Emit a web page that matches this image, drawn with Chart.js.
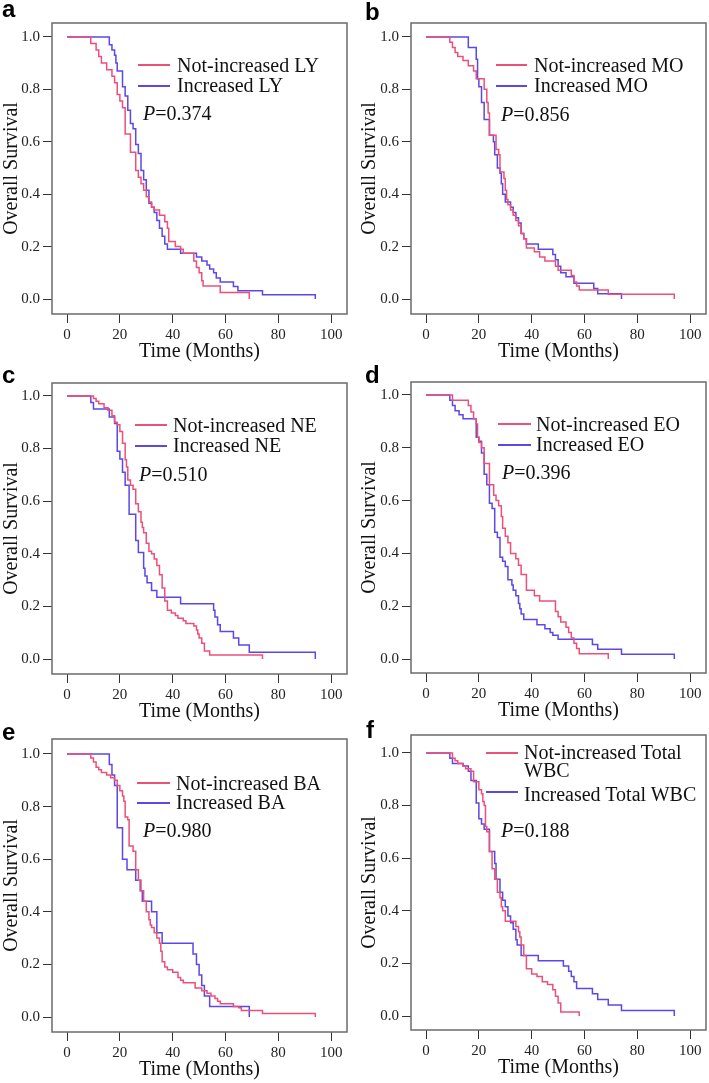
<!DOCTYPE html>
<html><head><meta charset="utf-8">
<script src="https://cdn.jsdelivr.net/npm/chart.js@4/dist/chart.umd.min.js"></script>
<style>
html,body{margin:0;padding:0;background:#fff}
body{width:709px;height:1083px;position:relative;overflow:hidden;font-family:'Liberation Serif','Times New Roman',serif}
.box{position:absolute}
.lbl{position:absolute;font-weight:bold;font-size:24px;line-height:24px;font-family:'Liberation Sans',Arial,sans-serif;color:#000}
.txt{position:absolute;font-size:20px;line-height:24px;white-space:nowrap;color:#111;font-family:'Liberation Serif','Times New Roman',serif}
.ln{position:absolute;height:2px}
</style></head><body>
<script>
// ---------- data ----------
const xTicks = [0, 20, 40, 60, 80, 100];
const yTicks = [0, 0.2, 0.4, 0.6, 0.8, 1.0];
const xTitle = 'Time (Months)';
const yTitle = 'Overall Survival';
const panelLetters = ['a', 'b', 'c', 'd', 'e', 'f'];
const legendNot = ['Not-increased LY', 'Not-increased MO', 'Not-increased NE', 'Not-increased EO', 'Not-increased BA', 'Not-increased Total'];
const legendNotExtra = ['', '', '', '', '', 'WBC'];
const legendInc = ['Increased LY', 'Increased MO', 'Increased NE', 'Increased EO', 'Increased BA', 'Increased Total WBC'];
const pValues = ['0.374', '0.856', '0.510', '0.396', '0.980', '0.188'];

// a: LY
const lyNotTime = [0, 9, 11, 12, 13, 15, 17, 18, 19, 20, 21, 22, 24, 26, 27, 28, 29, 30, 31, 32, 33, 35, 37, 38, 38.5, 41, 43, 44, 48, 49, 50, 51, 51.5, 58, 69];
const lyNotSurv = [1, 0.975, 0.95, 0.925, 0.9, 0.875, 0.85, 0.825, 0.78, 0.755, 0.73, 0.63, 0.56, 0.49, 0.465, 0.44, 0.415, 0.39, 0.37, 0.35, 0.34, 0.32, 0.295, 0.27, 0.22, 0.2, 0.19, 0.175, 0.145, 0.12, 0.1, 0.07, 0.05, 0.025, 0];
const lyIncTime = [0, 16, 17, 18, 18.5, 19, 21, 22, 23, 24, 25, 26, 27, 28, 29, 30, 31, 32, 33, 34, 35, 36, 37, 38, 43, 49, 51, 53, 54, 55.5, 56.5, 58, 63, 64.7, 74, 94];
const lyIncSurv = [1, 0.97, 0.95, 0.93, 0.9, 0.87, 0.81, 0.775, 0.72, 0.67, 0.65, 0.59, 0.555, 0.49, 0.455, 0.415, 0.365, 0.35, 0.33, 0.3, 0.27, 0.24, 0.21, 0.19, 0.175, 0.16, 0.145, 0.13, 0.115, 0.1, 0.08, 0.065, 0.048, 0.032, 0.016, 0];

// b: MO
const moNotTime = [0, 9, 10, 11, 12, 14, 16, 18, 19, 22, 23, 23.5, 24, 26.5, 27.5, 28, 29.5, 30, 30.5, 31, 32, 33, 34, 35, 36, 37, 38, 41, 43, 45, 49, 50, 55, 56, 57, 58, 69, 94];
const moNotSurv = [1, 0.98, 0.96, 0.94, 0.925, 0.91, 0.89, 0.87, 0.84, 0.8, 0.75, 0.71, 0.625, 0.57, 0.55, 0.485, 0.46, 0.415, 0.38, 0.36, 0.34, 0.32, 0.3, 0.28, 0.25, 0.23, 0.195, 0.18, 0.16, 0.145, 0.125, 0.11, 0.09, 0.065, 0.05, 0.035, 0.018, 0];
const moIncTime = [0, 16, 19, 19.5, 20, 21, 22, 24, 25.5, 26, 27, 28, 28.5, 29, 30, 32, 33, 34, 35, 36, 37, 38, 42.5, 48, 49, 50, 51, 53, 56, 63.5, 65, 74];
const moIncSurv = [1, 0.96, 0.915, 0.84, 0.81, 0.75, 0.685, 0.625, 0.6, 0.55, 0.5, 0.48, 0.44, 0.4, 0.37, 0.35, 0.33, 0.31, 0.29, 0.25, 0.23, 0.21, 0.19, 0.17, 0.15, 0.125, 0.1, 0.085, 0.06, 0.04, 0.02, 0];

// c: NE
const neNotTime = [0, 10, 11, 12, 14, 15.5, 17, 18, 19, 20, 21, 22, 22.5, 23, 24, 25, 26, 27, 28, 28.5, 29, 30, 31, 32, 33, 34, 35, 36, 37, 38, 39.5, 41, 42, 44, 45, 48, 49, 49.5, 50, 51, 52, 54, 74];
const neNotSurv = [1, 0.99, 0.98, 0.97, 0.955, 0.945, 0.925, 0.9, 0.89, 0.865, 0.82, 0.757, 0.73, 0.68, 0.66, 0.645, 0.59, 0.56, 0.52, 0.5, 0.48, 0.44, 0.41, 0.4, 0.38, 0.355, 0.32, 0.27, 0.22, 0.185, 0.175, 0.165, 0.155, 0.145, 0.135, 0.125, 0.11, 0.095, 0.08, 0.06, 0.03, 0.015, 0];
const neIncTime = [0, 9, 10, 16, 18, 19, 20, 21, 22, 23.5, 26, 27, 29, 29.5, 30.3, 32, 34, 43, 55.5, 56, 57, 58, 63, 65, 69, 94];
const neIncSurv = [1, 0.975, 0.95, 0.92, 0.895, 0.79, 0.76, 0.71, 0.66, 0.55, 0.45, 0.405, 0.345, 0.315, 0.29, 0.26, 0.235, 0.21, 0.185, 0.16, 0.13, 0.105, 0.08, 0.053, 0.026, 0];

// d: EO
const eoNotTime = [0, 10, 16, 17, 18, 19, 19.5, 20, 21, 22, 24, 25.6, 26.5, 27.5, 28.5, 29, 30, 31, 32, 34, 35, 36, 38, 41, 43, 49, 50, 51, 53, 54, 55, 56, 57, 58, 69];
const eoNotSurv = [1, 0.98, 0.96, 0.935, 0.91, 0.89, 0.84, 0.82, 0.8, 0.74, 0.66, 0.62, 0.6, 0.58, 0.54, 0.495, 0.465, 0.44, 0.4, 0.38, 0.355, 0.32, 0.26, 0.24, 0.22, 0.18, 0.16, 0.14, 0.12, 0.1, 0.08, 0.06, 0.04, 0.02, 0];
const eoIncTime = [0, 9, 10, 11, 12.5, 14, 19, 20, 21, 22, 23, 24, 25, 26, 27, 28, 29, 30, 31, 32.5, 33, 34, 35, 35.5, 36, 37, 42, 45, 47, 48, 50, 63, 65, 74, 94];
const eoIncSurv = [1, 0.98, 0.96, 0.94, 0.925, 0.91, 0.84, 0.825, 0.78, 0.7, 0.66, 0.59, 0.57, 0.48, 0.46, 0.385, 0.37, 0.35, 0.3, 0.28, 0.26, 0.24, 0.21, 0.19, 0.17, 0.15, 0.13, 0.115, 0.1, 0.09, 0.075, 0.055, 0.037, 0.018, 0];

// e: BA
const baNotTime = [0, 9, 10, 11, 12, 13, 15, 16.5, 18, 19, 20, 21, 21.5, 22, 23, 23.5, 25, 26, 27, 28, 29, 30, 31, 31.5, 32, 33, 34, 35, 35.5, 36, 37, 38, 40, 42, 43, 44, 48.5, 51, 53, 54.5, 56, 57, 58, 63, 65, 66, 74, 94];
const baNotSurv = [1, 0.985, 0.97, 0.95, 0.94, 0.93, 0.92, 0.91, 0.9, 0.88, 0.86, 0.84, 0.82, 0.76, 0.75, 0.65, 0.63, 0.56, 0.52, 0.48, 0.44, 0.4, 0.37, 0.35, 0.34, 0.32, 0.3, 0.28, 0.25, 0.21, 0.19, 0.18, 0.17, 0.15, 0.14, 0.13, 0.11, 0.1, 0.09, 0.08, 0.07, 0.06, 0.05, 0.04, 0.035, 0.025, 0.013, 0];
const baIncTime = [0, 16, 17, 18, 19, 21, 22.7, 26, 27.7, 28.5, 32, 34, 36, 47.7, 49, 50, 51, 52, 54, 69];
const baIncSurv = [1, 0.96, 0.92, 0.88, 0.72, 0.6, 0.56, 0.52, 0.48, 0.44, 0.4, 0.32, 0.28, 0.24, 0.2, 0.16, 0.12, 0.08, 0.04, 0];

// f: Total WBC
const wbcNotTime = [0, 10, 11, 12, 14, 15, 17, 18, 20, 21, 21.5, 22, 22.5, 23, 24, 25, 26, 27, 28, 28.5, 29, 30, 34, 35, 35.5, 36, 37, 38, 40, 42, 44, 46, 48, 49, 50, 51, 58];
const wbcNotSurv = [1, 0.98, 0.97, 0.96, 0.95, 0.94, 0.93, 0.89, 0.86, 0.845, 0.815, 0.8, 0.72, 0.7, 0.625, 0.56, 0.52, 0.47, 0.45, 0.415, 0.4, 0.36, 0.34, 0.32, 0.3, 0.27, 0.23, 0.18, 0.16, 0.15, 0.13, 0.12, 0.1, 0.075, 0.05, 0.015, 0];
const wbcIncTime = [0, 9, 10, 14, 16, 17, 19, 20, 21, 22, 24, 26, 26.5, 28, 29, 30, 31, 32, 33, 34, 34.5, 36, 42.5, 52, 54, 55, 56, 57, 63, 65, 69, 74, 94];
const wbcIncSurv = [1, 0.98, 0.96, 0.95, 0.93, 0.895, 0.81, 0.75, 0.73, 0.71, 0.625, 0.58, 0.52, 0.47, 0.44, 0.415, 0.38, 0.355, 0.33, 0.29, 0.27, 0.23, 0.21, 0.19, 0.17, 0.15, 0.13, 0.105, 0.085, 0.063, 0.042, 0.021, 0];

const seriesNot = [[lyNotTime, lyNotSurv], [moNotTime, moNotSurv], [neNotTime, neNotSurv], [eoNotTime, eoNotSurv], [baNotTime, baNotSurv], [wbcNotTime, wbcNotSurv]];
const seriesInc = [[lyIncTime, lyIncSurv], [moIncTime, moIncSurv], [neIncTime, neIncSurv], [eoIncTime, eoIncSurv], [baIncTime, baIncSurv], [wbcIncTime, wbcIncSurv]];

// ---------- layout & style ----------
const PINK = '#ec5079';
const BLUE = '#5b48e6';
const SERIF = "'Liberation Serif','Times New Roman',serif";
const layout = [
  {left:0,   top:0,   w:354, h:364, pt:23, pr:7, pl:0, yw:52, ymin:-0.057, ymax:1.053, letter:[2,-3],
   lx:[138,170], ly:[65,86], tx:177, ty:[64.5,85], px:143, py:113},
  {left:354, top:0,   w:355, h:364, pt:23, pr:3, pl:4, yw:53, ymin:-0.057, ymax:1.053, letter:[365,0],
   lx:[496,527], ly:[65,86], tx:534, ty:[64.5,85], px:501, py:114},
  {left:0,   top:360, w:354, h:364, pt:23, pr:7, pl:0, yw:52, ymin:-0.057, ymax:1.049, letter:[2,363],
   lx:[135,167], ly:[425,446], tx:173, ty:[424.5,445], px:139, py:474},
  {left:354, top:360, w:355, h:363, pt:22, pr:3, pl:4, yw:53, ymin:-0.053, ymax:1.049, letter:[365,363],
   lx:[498,531], ly:[424,445], tx:536, ty:[424,444], px:502, py:472},
  {left:0,   top:720, w:354, h:362, pt:19, pr:7, pl:0, yw:52, ymin:-0.057, ymax:1.057, letter:[2,720],
   lx:[137,170], ly:[783,803], tx:176, ty:[782.5,802], px:143, py:830},
  {left:354, top:720, w:355, h:360, pt:15, pr:3, pl:4, yw:53, ymin:-0.053, ymax:1.068, letter:[366,718],
   lx:[486,518], ly:[753,792], tx:524, ty:[752,793.7], tyExtra:770, px:501, py:830}
];

const framePlugin = {
  id: 'frame',
  beforeDatasetsDraw(chart) {
    const {ctx, chartArea: a} = chart;
    ctx.save();
    ctx.strokeStyle = '#6b6b6b';
    ctx.lineWidth = 1.5;
    ctx.strokeRect(a.left, a.top, a.right - a.left, a.bottom - a.top);
    ctx.restore();
  }
};

function pts(t, s) { return t.map((x, i) => ({x: x, y: s[i]})); }

function addEl(cls, x, y, html, extra) {
  const d = document.createElement('div');
  d.className = cls;
  d.style.left = x + 'px';
  d.style.top = y + 'px';
  if (html !== null) d.innerHTML = html;
  if (extra) Object.assign(d.style, extra);
  document.body.appendChild(d);
  return d;
}

layout.forEach((L, i) => {
  const box = addEl('box', L.left, L.top, null, {width: L.w + 'px', height: L.h + 'px'});
  const cv = document.createElement('canvas');
  cv.width = L.w; cv.height = L.h;
  cv.style.width = L.w + 'px'; cv.style.height = L.h + 'px';
  box.appendChild(cv);

  new Chart(cv, {
    type: 'line',
    data: {
      datasets: [
        {label: legendNot[i], data: pts(seriesNot[i][0], seriesNot[i][1]), borderColor: PINK, borderWidth: 1.5, stepped: 'before', pointRadius: 0, fill: false},
        {label: legendInc[i], data: pts(seriesInc[i][0], seriesInc[i][1]), borderColor: BLUE, borderWidth: 1.5, stepped: 'before', pointRadius: 0, fill: false}
      ]
    },
    options: {
      responsive: false,
      animation: false,
      devicePixelRatio: 1,
      layout: {padding: {top: L.pt, right: L.pr, left: L.pl, bottom: 0}},
      plugins: {legend: {display: false}, tooltip: {enabled: false}},
      scales: {
        x: {
          type: 'linear', min: -5.7, max: 106,
          afterBuildTicks: s => { s.ticks = xTicks.map(v => ({value: v})); },
          ticks: {callback: v => String(v), font: {family: SERIF, size: 15}, color: '#222', padding: 3, maxRotation: 0, autoSkip: false},
          grid: {drawOnChartArea: false, drawTicks: true, tickLength: 9, color: '#333', lineWidth: 1},
          border: {display: false},
          title: {display: true, text: xTitle, font: {family: SERIF, size: 20}, color: '#111', padding: 0},
          afterFit: s => { s.height = 50; s.paddingLeft = 0; s.paddingRight = 0; }
        },
        y: {
          type: 'linear', min: L.ymin, max: L.ymax,
          afterBuildTicks: s => { s.ticks = yTicks.map(v => ({value: v})); },
          ticks: {callback: v => Number(v).toFixed(1), font: {family: SERIF, size: 15}, color: '#222', padding: 3, autoSkip: false},
          grid: {drawOnChartArea: false, drawTicks: true, tickLength: 9, color: '#333', lineWidth: 1},
          border: {display: false},
          title: {display: true, text: yTitle, font: {family: SERIF, size: 20}, color: '#111', padding: 0},
          afterFit: s => { s.width = L.yw; s.paddingTop = 0; s.paddingBottom = 0; }
        }
      }
    },
    plugins: [framePlugin]
  });

  // panel letter
  addEl('lbl', L.letter[0], L.letter[1], panelLetters[i]);
  // legend lines
  addEl('ln', L.lx[0], L.ly[0] - 1, null, {width: (L.lx[1] - L.lx[0]) + 'px', background: PINK});
  addEl('ln', L.lx[0], L.ly[1] - 1, null, {width: (L.lx[1] - L.lx[0]) + 'px', background: BLUE});
  // legend text
  addEl('txt', L.tx, L.ty[0] - 12, legendNot[i]);
  if (legendNotExtra[i]) addEl('txt', L.tx, L.tyExtra - 12, legendNotExtra[i]);
  addEl('txt', L.tx, L.ty[1] - 12, legendInc[i]);
  // p value
  addEl('txt', L.px, L.py - 12, '<i>P</i>=' + pValues[i]);
});
</script>
</body></html>
